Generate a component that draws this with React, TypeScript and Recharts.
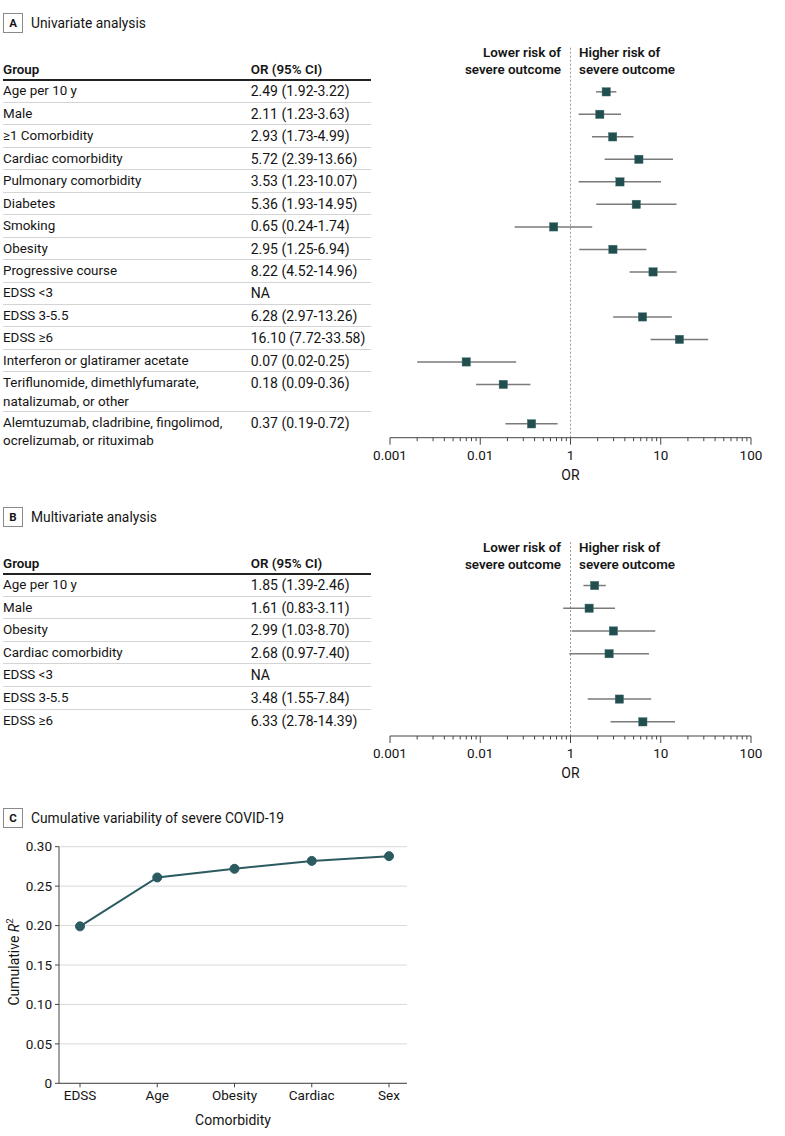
/**
 * Forest plots (univariate / multivariate OR) + cumulative R² line chart.
 * Tables are plain HTML next to Recharts ScatterCharts on a log OR axis.
 */
import React from 'react';
import {
  ScatterChart,
  Scatter,
  ErrorBar,
  XAxis,
  YAxis,
  ReferenceLine,
  LineChart,
  Line,
  CartesianGrid,
  Label,
} from 'recharts';

// ---- Panel A: univariate ----
const GROUPS_A = [
  'Age per 10 y',
  'Male',
  '≥1 Comorbidity',
  'Cardiac comorbidity',
  'Pulmonary comorbidity',
  'Diabetes',
  'Smoking',
  'Obesity',
  'Progressive course',
  'EDSS <3',
  'EDSS 3-5.5',
  'EDSS ≥6',
  'Interferon or glatiramer acetate',
  'Teriflunomide, dimethlyfumarate,\nnatalizumab, or other',
  'Alemtuzumab, cladribine, fingolimod,\nocrelizumab, or rituximab',
];
const OR_A = [2.49, 2.11, 2.93, 5.72, 3.53, 5.36, 0.65, 2.95, 8.22, null, 6.28, 16.1, 0.07, 0.18, 0.37];
const LO_A = [1.92, 1.23, 1.73, 2.39, 1.23, 1.93, 0.24, 1.25, 4.52, null, 2.97, 7.72, 0.02, 0.09, 0.19];
const HI_A = [3.22, 3.63, 4.99, 13.66, 10.07, 14.95, 1.74, 6.94, 14.96, null, 13.26, 33.58, 0.25, 0.36, 0.72];

// ---- Panel B: multivariate ----
const GROUPS_B = [
  'Age per 10 y',
  'Male',
  'Obesity',
  'Cardiac comorbidity',
  'EDSS <3',
  'EDSS 3-5.5',
  'EDSS ≥6',
];
const OR_B = [1.85, 1.61, 2.99, 2.68, null, 3.48, 6.33];
const LO_B = [1.39, 0.83, 1.03, 0.97, null, 1.55, 2.78];
const HI_B = [2.46, 3.11, 8.7, 7.4, null, 7.84, 14.39];

// OR axis. Printed labels in the source figure are shifted by one decade on the
// left side (0.1 printed as "0.01", 0.01 as "0.001"); points follow the true scale.
const OR_TICKS = [0.01, 0.1, 1, 10, 100];
const OR_TICK_LABELS = ['0.001', '0.01', '1', '10', '100'];
const MINOR_STEPS = [2, 3, 4, 5, 6, 7, 8, 9];

// ---- Panel C: cumulative R² ----
const C_CATEGORIES = ['EDSS', 'Age', 'Obesity', 'Cardiac', 'Sex'];
const C_R2 = [0.199, 0.261, 0.272, 0.282, 0.288];
const C_TICKS = [0, 0.05, 0.1, 0.15, 0.2, 0.25, 0.3];
const C_TICK_LABELS = ['0', '0.05', '0.10', '0.15', '0.20', '0.25', '0.30'];

const FONT = 'Roboto, "Noto Sans", sans-serif';
const INK = '#141414';
const TEAL = '#214f50';
const LINE_TEAL = '#2b5b61';
const FS = 13.4; // label column
const FS_NUM = 14; // OR column (wider digits in the source)

const ALL_OR_TICKS = OR_TICKS.flatMap((t, i) =>
  i < OR_TICKS.length - 1 ? [t, ...MINOR_STEPS.map((m) => m * t)] : [t],
);

const fmtCI = (or: number | null, lo: number | null, hi: number | null) =>
  or == null ? 'NA' : `${or.toFixed(2)} (${lo!.toFixed(2)}-${hi!.toFixed(2)})`;

interface Row {
  label: string;
  or: number | null;
  lo: number | null;
  hi: number | null;
  lines: number;
  top: number; // px from first row top
  h: number;
}

function buildRows(groups: string[], or: (number | null)[], lo: (number | null)[], hi: (number | null)[], rowH: number): Row[] {
  let acc = 0;
  return groups.map((g, i) => {
    const lines = g.split('\n').length;
    const h = lines > 1 ? rowH * 1.75 : rowH;
    const r = { label: g, or: or[i], lo: lo[i], hi: hi[i], lines, top: acc, h };
    acc += h;
    return r;
  });
}

function PanelTag({ letter, title, top }: { letter: string; title: string; top: number }) {
  return (
    <div style={{ position: 'absolute', left: 3, top, height: 19, display: 'flex', alignItems: 'center' }}>
      <div
        style={{
          width: 18,
          height: 18,
          border: '1px solid #8a8a8a',
          fontSize: 11.5,
          fontWeight: 700,
          display: 'flex',
          alignItems: 'center',
          justifyContent: 'center',
          color: INK,
        }}
      >
        {letter}
      </div>
      <div style={{ marginLeft: 8, fontSize: 13.8, color: INK }}>{title}</div>
    </div>
  );
}

function ForestTable({ rows, underlineY, rowH }: { rows: Row[]; underlineY: number; rowH: number }) {
  const rowsTop = underlineY + 1.5;
  return (
    <div style={{ position: 'absolute', left: 3, top: 0, width: 368 }}>
      <div
        style={{
          position: 'absolute',
          top: underlineY - 19,
          left: 0,
          width: 368,
          height: 19,
          fontSize: FS,
          fontWeight: 600,
          lineHeight: '19px',
          color: INK,
          borderBottom: '2px solid #222',
          boxSizing: 'content-box',
        }}
      >
        <span>Group</span>
        <span style={{ position: 'absolute', left: 247.7 }}>OR (95% CI)</span>
      </div>
      {rows.map((r, i) => (
        <div
          key={r.label}
          style={{
            position: 'absolute',
            top: rowsTop + r.top,
            left: 0,
            width: 368,
            height: r.h,
            boxSizing: 'border-box',
            borderBottom: i < rows.length - 1 ? '1px solid #d4d4d4' : 'none',
            fontSize: FS,
            lineHeight: '18.7px',
            paddingTop: rowH / 2 - 9.35,
            color: INK,
          }}
        >
          <div style={{ whiteSpace: 'pre' }}>{r.label}</div>
          <div style={{ position: 'absolute', left: 247.7, top: rowH / 2 - 9.35, fontSize: FS_NUM }}>
            {fmtCI(r.or, r.lo, r.hi)}
          </div>
        </div>
      ))}
    </div>
  );
}

const LogTick = (props: any) => {
  const { x, y, payload } = props;
  const idx = OR_TICKS.indexOf(payload.value);
  const major = idx >= 0;
  return (
    <g>
      <line x1={x} x2={x} y1={y} y2={y + (major ? 7 : 3.5)} stroke="#444" strokeWidth={1} />
      {major ? (
        <text x={x} y={y + 17} textAnchor="middle" dominantBaseline="central" fontSize={13.5} fill={INK}>
          {OR_TICK_LABELS[idx]}
        </text>
      ) : null}
    </g>
  );
};

const Square = (props: any) => {
  const { cx, cy } = props;
  if (cx == null || cy == null) return null;
  return <rect x={cx - 4.2} y={cy - 4.2} width={8.4} height={8.4} fill={TEAL} stroke="#4f7675" strokeWidth={0.4} />;
};

function ForestChart({
  rows,
  plotTop,
  axisY,
  rowsTop,
  rowH,
}: {
  rows: Row[];
  plotTop: number;
  axisY: number;
  rowsTop: number;
  rowH: number;
}) {
  const chartLeft = 360;
  const chartTop = plotTop - 10;
  const plotH = axisY - plotTop;
  const width = 420;
  const height = plotH + 10 + 46;
  const data = rows
    .filter((r) => r.or != null)
    .map((r) => ({
      x: r.or as number,
      y: rowsTop - plotTop + r.top + rowH / 2,
      err: [(r.or as number) - (r.lo as number), (r.hi as number) - (r.or as number)],
    }));

  return (
    <>
      <div
        style={{
          position: 'absolute',
          top: plotTop - 3.5,
          right: 785 - 561,
          textAlign: 'right',
          fontSize: FS,
          fontWeight: 600,
          lineHeight: '17.6px',
          color: INK,
        }}
      >
        Lower risk of
        <br />
        severe outcome
      </div>
      <div
        style={{
          position: 'absolute',
          top: plotTop - 3.5,
          left: 579,
          fontSize: FS,
          fontWeight: 600,
          lineHeight: '17.6px',
          color: INK,
        }}
      >
        Higher risk of
        <br />
        severe outcome
      </div>
      <div style={{ position: 'absolute', left: chartLeft, top: chartTop }}>
        <ScatterChart width={width} height={height} margin={{ top: 10, right: 29, left: 30, bottom: 3 }}>
          <XAxis
            dataKey="x"
            type="number"
            scale="log"
            domain={[0.01, 100]}
            allowDataOverflow
            ticks={ALL_OR_TICKS}
            interval={0}
            tickLine={false}
            tickSize={0}
            tickMargin={0}
            tick={<LogTick />}
            axisLine={{ stroke: '#444', strokeWidth: 1 }}
            height={42}
            label={{ value: 'OR', position: 'insideBottom', offset: 0, fill: INK, fontSize: 14 }}
          />
          <YAxis dataKey="y" type="number" domain={[0, plotH]} reversed hide width={0} />
          <ReferenceLine x={1} stroke="#9a9a9a" strokeDasharray="2 2" strokeWidth={1} />
          <Scatter data={data} shape={<Square />} isAnimationActive={false}>
            <ErrorBar dataKey="err" direction="x" width={0} stroke="#7a7a7a" strokeWidth={1.5} />
          </Scatter>
        </ScatterChart>
      </div>
    </>
  );
}

const CYLabel = (props: any) => {
  const vb = props.viewBox || { y: 16.7, height: 236.6 };
  const cx = 13.5;
  const cy = vb.y + vb.height / 2 - 3;
  return (
    <text
      x={cx}
      y={cy}
      transform={`rotate(-90, ${cx}, ${cy})`}
      textAnchor="middle"
      dominantBaseline="central"
      fontSize={14}
      fill={INK}
    >
      Cumulative <tspan fontStyle="italic">R</tspan>
      <tspan fontSize={9.5} dy={-5}>
        2
      </tspan>
    </text>
  );
};

export default function App() {
  const ROW_A = 22.45;
  const ROW_B = 22.6;
  const rowsA = buildRows(GROUPS_A, OR_A, LO_A, HI_A, ROW_A);
  const rowsB = buildRows(GROUPS_B, OR_B, LO_B, HI_B, ROW_B);
  const underA = 79;
  const underB = 572.5;
  const cData = C_CATEGORIES.map((c, i) => ({ name: c, r2: C_R2[i] }));

  return (
    <div
      style={{
        position: 'absolute',
        left: 0,
        top: 0,
        width: 785,
        height: 1136,
        background: '#fff',
        fontFamily: FONT,
        color: INK,
        overflow: 'hidden',
      }}
    >
      <PanelTag letter="A" title="Univariate analysis" top={13.5} />
      <ForestTable rows={rowsA} underlineY={underA} rowH={ROW_A} />
      <ForestChart rows={rowsA} plotTop={47} axisY={436.7} rowsTop={underA + 1.5} rowH={ROW_A} />

      <PanelTag letter="B" title="Multivariate analysis" top={507.5} />
      <ForestTable rows={rowsB} underlineY={underB} rowH={ROW_B} />
      <ForestChart rows={rowsB} plotTop={542} axisY={735} rowsTop={underB + 1.5} rowH={ROW_B} />

      <PanelTag letter="C" title="Cumulative variability of severe COVID-19" top={808.5} />
      <div style={{ position: 'absolute', left: 0, top: 830 }}>
        <LineChart width={420} height={300} data={cData} margin={{ top: 16.7, right: 13, left: 19, bottom: 2.7 }}>
          <CartesianGrid vertical={false} stroke="#d9d9d9" strokeWidth={1} />
          <XAxis
            dataKey="name"
            padding={{ left: 21, right: 18 }}
            interval={0}
            tickSize={4}
            tickMargin={3}
            tickLine={{ stroke: '#444' }}
            axisLine={{ stroke: '#444' }}
            tick={{ fill: INK, fontSize: 13.5 }}
            height={44}
            label={{ value: 'Comorbidity', position: 'insideBottom', offset: 2, fill: INK, fontSize: 14 }}
          />
          <YAxis
            type="number"
            domain={[0, 0.3]}
            ticks={C_TICKS}
            interval={0}
            width={40}
            tickSize={4}
            tickMargin={3}
            tickLine={{ stroke: '#444' }}
            axisLine={{ stroke: '#444' }}
            tick={{ fill: INK, fontSize: 13.5 }}
            tickFormatter={(v: number) => C_TICK_LABELS[C_TICKS.indexOf(v)] ?? String(v)}
          >
            <Label content={CYLabel} />
          </YAxis>
          <Line
            dataKey="r2"
            stroke={LINE_TEAL}
            strokeWidth={2}
            dot={{ r: 4.5, fill: LINE_TEAL, stroke: LINE_TEAL, strokeWidth: 1 }}
            isAnimationActive={false}
          />
        </LineChart>
      </div>
    </div>
  );
}
